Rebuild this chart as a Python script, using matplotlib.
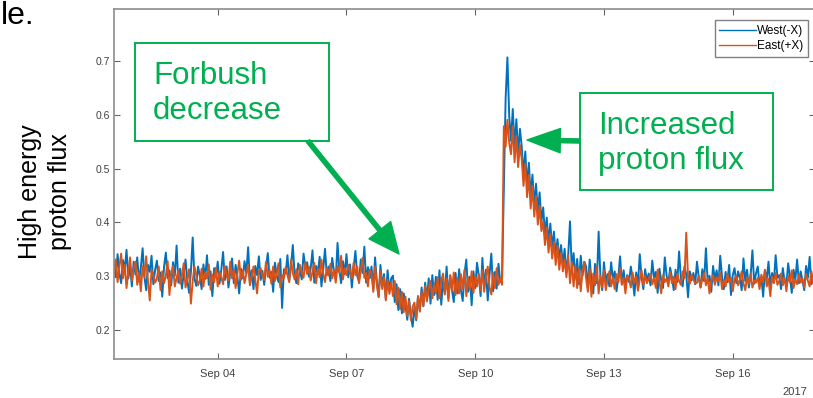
import numpy as np
import matplotlib.pyplot as plt
import matplotlib.dates as mdates
from matplotlib.patches import FancyArrowPatch, Rectangle

plt.rcParams['font.family'] = ['Liberation Sans', 'DejaVu Sans']

# hourly proton flux, starting 2017-09-01 14:00
start = np.datetime64('2017-09-01T14:00')
end = np.datetime64('2017-09-17T22:00')

west = [
    0.322, 0.298, 0.341, 0.305, 0.287, 0.330, 0.312, 0.349, 0.296, 0.318, 0.281, 0.327,
    0.303, 0.335, 0.290, 0.316, 0.352, 0.299, 0.274, 0.321, 0.308, 0.338, 0.285, 0.312,
    0.329, 0.291, 0.307, 0.262, 0.318, 0.344, 0.296, 0.311, 0.283, 0.326, 0.301, 0.357,
    0.288, 0.314, 0.277, 0.305, 0.331, 0.292, 0.269, 0.308, 0.372, 0.296, 0.282, 0.318,
    0.301, 0.276, 0.322, 0.295, 0.339, 0.284, 0.309, 0.263, 0.315, 0.298, 0.327, 0.286,
    0.312, 0.345, 0.293, 0.318, 0.279, 0.306, 0.333, 0.287, 0.321, 0.299, 0.268, 0.314,
    0.296, 0.328, 0.305, 0.354, 0.289, 0.311, 0.276, 0.319, 0.302, 0.337, 0.293, 0.310,
    0.284, 0.316, 0.343, 0.297, 0.308, 0.271, 0.325, 0.301, 0.289, 0.332, 0.241, 0.313,
    0.305, 0.339, 0.292, 0.320, 0.358, 0.303, 0.287, 0.324, 0.311, 0.294, 0.342, 0.317,
    0.326, 0.299, 0.315, 0.348, 0.288, 0.319, 0.306, 0.336, 0.281, 0.313, 0.351, 0.302,
    0.318, 0.291, 0.334, 0.309, 0.295, 0.362, 0.311, 0.287, 0.328, 0.304, 0.341, 0.298,
    0.322, 0.279, 0.315, 0.347, 0.301, 0.290, 0.331, 0.306, 0.355, 0.288, 0.317, 0.296,
    0.318, 0.276, 0.335, 0.289, 0.262, 0.321, 0.281, 0.304, 0.258, 0.311, 0.272, 0.296,
    0.301, 0.252, 0.285, 0.237, 0.276, 0.231, 0.268, 0.246, 0.219, 0.258, 0.227, 0.206,
    0.242, 0.218, 0.263, 0.236, 0.279, 0.244, 0.288, 0.257, 0.296, 0.249, 0.302, 0.265,
    0.299, 0.256, 0.311, 0.247, 0.292, 0.268, 0.318, 0.259, 0.301, 0.274, 0.252, 0.306,
    0.268, 0.313, 0.274, 0.254, 0.305, 0.331, 0.271, 0.299, 0.246, 0.309, 0.278, 0.325,
    0.301, 0.263, 0.334, 0.281, 0.312, 0.255, 0.303, 0.342, 0.272, 0.308, 0.277, 0.323,
    0.289, 0.298, 0.462, 0.631, 0.707, 0.598, 0.552, 0.611, 0.539, 0.592, 0.528, 0.574,
    0.541, 0.489, 0.532, 0.467, 0.511, 0.448, 0.489, 0.431, 0.472, 0.419, 0.456, 0.402,
    0.428, 0.377, 0.409, 0.361, 0.398, 0.352, 0.383, 0.338, 0.369, 0.331, 0.358, 0.322,
    0.351, 0.306, 0.339, 0.402, 0.311, 0.343, 0.296, 0.332, 0.285, 0.338, 0.301, 0.327,
    0.318, 0.279, 0.331, 0.292, 0.268, 0.323, 0.287, 0.383, 0.299, 0.274, 0.326, 0.289,
    0.304, 0.281, 0.326, 0.293, 0.309, 0.272, 0.298, 0.337, 0.286, 0.311, 0.279, 0.302,
    0.289, 0.318, 0.295, 0.264, 0.307, 0.284, 0.341, 0.299, 0.276, 0.313, 0.291, 0.305,
    0.283, 0.329, 0.297, 0.308, 0.269, 0.314, 0.292, 0.278, 0.335, 0.301, 0.287, 0.316,
    0.298, 0.274, 0.312, 0.289, 0.346, 0.295, 0.281, 0.318, 0.303, 0.261, 0.309, 0.292,
    0.306, 0.285, 0.327, 0.297, 0.279, 0.313, 0.291, 0.352, 0.288, 0.301, 0.271, 0.319,
    0.294, 0.311, 0.283, 0.338, 0.299, 0.276, 0.308, 0.289, 0.321, 0.265, 0.302, 0.315,
    0.287, 0.309, 0.296, 0.274, 0.333, 0.291, 0.312, 0.279, 0.301, 0.348, 0.286, 0.305,
    0.318, 0.283, 0.299, 0.262, 0.311, 0.294, 0.327, 0.281, 0.306, 0.289, 0.339, 0.297,
    0.302, 0.276, 0.315, 0.291, 0.284, 0.324, 0.298, 0.269, 0.312, 0.293, 0.331, 0.287,
    0.309, 0.291, 0.274, 0.319, 0.297, 0.336, 0.285, 0.303, 0.279, 0.314, 0.295, 0.306,
]

east = [
    0.305, 0.331, 0.289, 0.318, 0.342, 0.296, 0.321, 0.278, 0.309, 0.335, 0.292, 0.314,
    0.327, 0.284, 0.306, 0.272, 0.319, 0.298, 0.337, 0.291, 0.255, 0.312, 0.301, 0.288,
    0.296, 0.318, 0.274, 0.309, 0.287, 0.301, 0.328, 0.265, 0.304, 0.319, 0.281, 0.297,
    0.311, 0.286, 0.302, 0.324, 0.279, 0.296, 0.313, 0.249, 0.291, 0.318, 0.302, 0.283,
    0.292, 0.314, 0.281, 0.307, 0.296, 0.322, 0.275, 0.303, 0.289, 0.316, 0.281, 0.308,
    0.298, 0.285, 0.319, 0.302, 0.291, 0.327, 0.296, 0.312, 0.278, 0.305, 0.329, 0.293,
    0.311, 0.287, 0.304, 0.322, 0.283, 0.299, 0.318, 0.294, 0.268, 0.309, 0.315, 0.301,
    0.293, 0.327, 0.299, 0.312, 0.286, 0.318, 0.291, 0.305, 0.324, 0.279, 0.302, 0.296,
    0.317, 0.302, 0.289, 0.331, 0.306, 0.294, 0.313, 0.285, 0.321, 0.309, 0.297, 0.326,
    0.304, 0.318, 0.292, 0.309, 0.325, 0.287, 0.314, 0.298, 0.331, 0.305, 0.289, 0.316,
    0.301, 0.323, 0.296, 0.312, 0.288, 0.319, 0.306, 0.338, 0.294, 0.315, 0.302, 0.321,
    0.309, 0.296, 0.325, 0.302, 0.318, 0.287, 0.311, 0.334, 0.297, 0.306, 0.281, 0.312,
    0.305, 0.271, 0.318, 0.283, 0.261, 0.309, 0.276, 0.298, 0.255, 0.293, 0.267, 0.289,
    0.263, 0.291, 0.248, 0.279, 0.239, 0.271, 0.233, 0.262, 0.226, 0.254, 0.218, 0.243,
    0.251, 0.221, 0.262, 0.234, 0.271, 0.245, 0.282, 0.253, 0.278, 0.291, 0.259, 0.284,
    0.268, 0.298, 0.259, 0.291, 0.305, 0.266, 0.296, 0.254, 0.302, 0.273, 0.307, 0.265,
    0.296, 0.268, 0.304, 0.277, 0.312, 0.263, 0.298, 0.275, 0.309, 0.269, 0.301, 0.281,
    0.304, 0.274, 0.312, 0.271, 0.299, 0.318, 0.279, 0.266, 0.306, 0.278, 0.315, 0.284,
    0.296, 0.284, 0.579, 0.541, 0.591, 0.548, 0.527, 0.579, 0.512, 0.561, 0.503, 0.544,
    0.518, 0.468, 0.509, 0.447, 0.488, 0.426, 0.468, 0.411, 0.449, 0.396, 0.431, 0.384,
    0.402, 0.358, 0.391, 0.344, 0.379, 0.333, 0.364, 0.321, 0.357, 0.312, 0.343, 0.309,
    0.331, 0.298, 0.339, 0.287, 0.326, 0.281, 0.319, 0.278, 0.314, 0.272, 0.309, 0.326,
    0.296, 0.271, 0.314, 0.262, 0.305, 0.283, 0.319, 0.268, 0.301, 0.279, 0.311, 0.274,
    0.293, 0.309, 0.281, 0.298, 0.276, 0.304, 0.289, 0.315, 0.284, 0.297, 0.268, 0.301,
    0.296, 0.279, 0.307, 0.288, 0.299, 0.273, 0.294, 0.311, 0.283, 0.301, 0.287, 0.295,
    0.304, 0.285, 0.297, 0.278, 0.312, 0.291, 0.268, 0.302, 0.289, 0.296, 0.281, 0.308,
    0.287, 0.299, 0.276, 0.305, 0.291, 0.284, 0.309, 0.296, 0.381, 0.298, 0.286, 0.303,
    0.295, 0.286, 0.288, 0.301, 0.279, 0.294, 0.306, 0.283, 0.297, 0.268, 0.291, 0.302,
    0.284, 0.298, 0.291, 0.307, 0.276, 0.293, 0.281, 0.304, 0.289, 0.297, 0.272, 0.295,
    0.301, 0.283, 0.294, 0.309, 0.287, 0.274, 0.298, 0.286, 0.305, 0.279, 0.292, 0.288,
    0.297, 0.276, 0.303, 0.289, 0.312, 0.281, 0.295, 0.263, 0.299, 0.287, 0.306, 0.284,
    0.291, 0.305, 0.283, 0.297, 0.272, 0.301, 0.289, 0.311, 0.278, 0.294, 0.285, 0.303,
    0.288, 0.296, 0.279, 0.304, 0.292, 0.281, 0.309, 0.287, 0.298, 0.275, 0.301, 0.293,
]

series_labels = ['West(-X)', 'East(+X)']
y_ticks = [0.2, 0.3, 0.4, 0.5, 0.6, 0.7]
x_ticks = ['2017-09-04', '2017-09-07', '2017-09-10', '2017-09-13', '2017-09-16']

times = start + np.arange(len(west)) * np.timedelta64(1, 'h')

W, H = 813, 398
green = '#00b050'

fig = plt.figure(figsize=(W / 100, H / 100), dpi=100)
ax = fig.add_axes([114 / W, (H - 359) / H, 701 / W, 350 / H])

ax.plot(times, west, color='#0072BD', lw=1.4, label=series_labels[0])
ax.plot(times, east, color='#D95319', lw=1.4, label=series_labels[1])

ax.set_xlim(start, end)
ax.set_ylim(0.146, 0.797)
ax.set_xticks([np.datetime64(d) for d in x_ticks])
ax.xaxis.set_major_formatter(mdates.DateFormatter('%b %d'))
ax.set_yticks(y_ticks)
ax.set_yticklabels([f'{v:.1f}' for v in y_ticks])

ax.tick_params(direction='in', top=True, right=True, length=4, width=0.8,
               color='#666666', labelcolor='#404040', labelsize=8)
ax.tick_params(axis='y', pad=3, labelsize=7.5)
ax.tick_params(axis='x', pad=7)
for s in ax.spines.values():
    s.set_color('#8c8c8c')
    s.set_linewidth(1.2)

leg = ax.legend(loc='upper right', bbox_to_anchor=(808 / W, 1 - 20 / H),
                bbox_transform=fig.transFigure, fontsize=8.5, handlelength=3.1,
                handletextpad=0.1, borderpad=0.4, labelspacing=0.3,
                fancybox=False, edgecolor='#808080', framealpha=1, borderaxespad=0)
leg.get_frame().set_linewidth(1)
for line in leg.get_lines():
    line.set_linewidth(1)

fig.text(45 / W, 1 - 192 / H, 'High energy\nproton flux', rotation=90,
         ha='center', va='center', fontsize=18, linespacing=1.3)
fig.text(807 / W, 1 - 392 / H, '2017', ha='right', va='center',
         fontsize=8, color='#404040')
fig.text(1 / W, 1 - 24 / H, 'le.', ha='left', va='baseline', fontsize=23)

# callout boxes
for (x0, y0, x1, y1) in [(135, 43, 329, 141), (580, 93, 773, 190)]:
    fig.patches.append(Rectangle((x0 / W, 1 - y1 / H), (x1 - x0) / W, (y1 - y0) / H,
                                 transform=fig.transFigure, facecolor='white',
                                 edgecolor=green, lw=1.4))

fig.text(153 / W, 1 - 61 / H, 'Forbush\ndecrease', ha='left', va='top',
         fontsize=22.5, color=green, linespacing=1.2)
fig.text(598 / W, 1 - 111 / H, 'Increased\nproton flux', ha='left', va='top',
         fontsize=22.5, color=green, linespacing=1.2)

# arrows pointing at the two events
fig.patches.append(FancyArrowPatch((308 / W, 1 - 141 / H), (399 / W, 1 - 254 / H),
                                   transform=fig.transFigure,
                                   arrowstyle='simple,head_length=2.2,head_width=2.0,tail_width=0.3',
                                   mutation_scale=10, color=green, shrinkA=0, shrinkB=0))
fig.patches.append(FancyArrowPatch((580 / W, 1 - 141 / H), (527 / W, 1 - 140 / H),
                                   transform=fig.transFigure,
                                   arrowstyle='simple,head_length=2.4,head_width=1.75,tail_width=0.3',
                                   mutation_scale=10, color=green, shrinkA=0, shrinkB=0))

fig.savefig('out.png', dpi=100)
